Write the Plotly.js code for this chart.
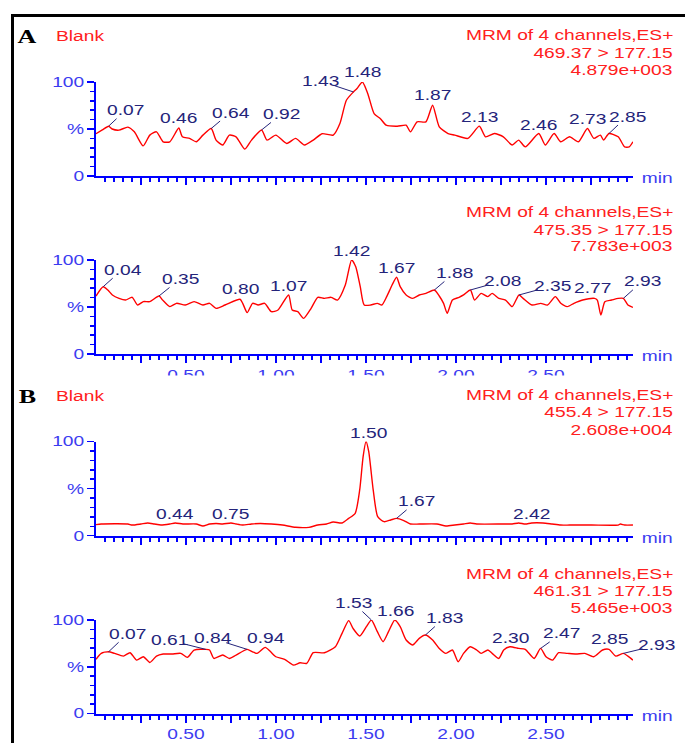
<!DOCTYPE html>
<html>
<head>
<meta charset="utf-8">
<script src="https://cdn.plot.ly/plotly-3.0.1.min.js"></script>
<style>
html,body{margin:0;padding:0;background:#fff;}
#chart{width:685px;height:743px;}
</style>
</head>
<body>
<div id="chart"></div>
<script>
// ---------------- DATA ----------------
// Panel A, channel 469.37 > 177.15
const timeA1 = [0.000,0.035,0.070,0.090,0.128,0.177,0.213,0.262,0.299,0.336,0.373,0.410,0.460,0.480,0.520,0.557,0.594,0.640,0.667,0.704,0.741,0.778,0.827,0.864,0.920,0.950,0.999,1.060,1.109,1.158,1.207,1.256,1.318,1.355,1.391,1.430,1.450,1.480,1.510,1.545,1.580,1.612,1.674,1.723,1.747,1.784,1.833,1.870,1.907,1.956,1.993,2.066,2.130,2.164,2.213,2.263,2.312,2.348,2.385,2.460,2.496,2.545,2.582,2.631,2.680,2.730,2.766,2.802,2.820,2.850,2.901,2.937,2.962,2.983];
const intensA1 = [45,49,53,50,48.8,52,47,32,43.5,47,36.4,36.4,51,41.7,40,36.4,43.5,50.5,38.2,33,43.5,41.7,28.6,38.2,49,38.2,43.5,34.6,40,33,38.2,45,43.5,55.8,80.6,89.4,93,100,87.6,66.4,61,54,53,54,47,57.6,57.6,75.3,52.3,45.2,43.5,40,53,41.7,45.2,41.7,33,38.2,31,45.2,33,45.2,36.4,41.7,36.4,50.5,40,43.5,38.2,45.2,41.7,31,31,36.4];
const peaksA1 = ['0.07','0.46','0.64','0.92','1.43','1.48','1.87','2.13','2.46','2.73','2.85'];

// Panel A, channel 475.35 > 177.15
const timeA2 = [0.000,0.040,0.066,0.091,0.128,0.164,0.201,0.231,0.263,0.299,0.350,0.370,0.410,0.447,0.496,0.545,0.594,0.631,0.667,0.717,0.800,0.815,0.840,0.870,0.901,0.937,0.974,1.011,1.070,1.090,1.121,1.153,1.195,1.232,1.269,1.306,1.342,1.385,1.420,1.443,1.468,1.490,1.526,1.563,1.588,1.615,1.645,1.670,1.690,1.723,1.759,1.796,1.833,1.880,1.907,1.931,1.951,1.980,2.017,2.042,2.080,2.103,2.140,2.177,2.201,2.238,2.275,2.312,2.350,2.373,2.422,2.471,2.508,2.552,2.582,2.618,2.655,2.704,2.770,2.785,2.805,2.827,2.864,2.901,2.930,2.955,2.983];
const intensA2 = [61.7,71.6,68,62.8,59.2,57.4,60.3,52.1,55.7,55.7,61.7,57.4,50.4,53.9,52.1,55.7,52.1,53.9,48.6,52.1,58.2,53.9,44,53.9,52.1,53.9,45,46.8,62.8,46.8,45,37.9,48.6,60.3,59.2,60.3,57.4,73.4,100,92.9,71.6,52.1,52.1,53.9,52.1,61,73.4,81.6,71.6,62.8,59.2,62.8,64.5,68.1,61.7,53.9,43.3,57.4,60.3,62.8,68.1,57.4,64.5,61,64.5,59.2,57.4,50.4,62.8,59.2,52.1,53.9,52.1,61,53.9,50.4,53.9,57.4,59.2,57.4,41.5,55.7,57.4,59.2,59.2,52.1,49.6];
const peaksA2 = ['0.04','0.35','0.80','1.07','1.42','1.67','1.88','2.08','2.35','2.77','2.93'];

// Panel B, channel 455.4 > 177.15
const timeB1 = [0.000,0.029,0.177,0.201,0.250,0.287,0.324,0.361,0.410,0.440,0.483,0.557,0.594,0.631,0.667,0.704,0.750,0.778,0.815,0.864,0.913,0.974,1.036,1.109,1.183,1.232,1.281,1.318,1.367,1.404,1.440,1.465,1.484,1.500,1.515,1.540,1.565,1.600,1.637,1.670,1.710,1.747,1.796,1.894,1.944,1.993,2.042,2.079,2.115,2.263,2.312,2.348,2.385,2.420,2.483,2.533,2.582,2.631,2.753,2.901,2.913,2.937,2.983];
const intensB1 = [11.7,12.4,12.4,11.3,12.4,13.5,12.4,11.3,12.4,13.5,12.4,12.4,10.3,12.4,13,12.4,13.5,12.4,11.3,12.4,13,12.4,11.3,8.9,8.9,11.3,12.4,14.5,13.5,18.4,23.8,48.6,84,100,89.4,48.6,20.2,14.9,16.7,18.4,16,12.4,12.4,12.4,10.3,11.3,12.4,13.5,12.4,12.4,12.4,13.5,12.4,13.5,13.5,12.4,11.3,11.3,11.3,11.3,12.4,11.3,11.3];
const peaksB1 = ['0.44','0.75','1.50','1.67','2.42'];

// Panel B, channel 461.31 > 177.15
const timeB2 = [0.000,0.029,0.070,0.103,0.152,0.189,0.226,0.263,0.299,0.336,0.373,0.422,0.471,0.508,0.545,0.610,0.631,0.655,0.704,0.741,0.778,0.840,0.870,0.895,0.940,0.970,0.999,1.048,1.097,1.134,1.171,1.207,1.269,1.330,1.367,1.404,1.428,1.465,1.502,1.530,1.563,1.595,1.625,1.660,1.690,1.723,1.759,1.796,1.830,1.870,1.907,1.944,1.980,2.012,2.042,2.079,2.115,2.140,2.177,2.201,2.238,2.265,2.300,2.348,2.385,2.434,2.470,2.500,2.537,2.570,2.618,2.667,2.716,2.765,2.814,2.850,2.888,2.930,2.955,2.983];
const intensB2 = [57.9,64.3,66,64.3,61.4,65,57.1,60.7,54.6,61.4,63.6,63.6,64.3,60,67.9,68.6,67.9,58.9,62.5,58.9,62.5,68.6,66,64.3,70.7,66,60.7,57.9,51.8,54.3,53.6,65,65,71.4,85.7,99.3,91,82.9,92.9,100,87.5,76.8,87.5,100,92.9,78.6,73.2,80.4,83.9,78.6,69.6,64.3,67.9,55.4,64.3,71.4,67.9,64.3,67.9,64.3,58.9,67.9,71.4,69.6,68.6,58.9,69.6,60.7,57.1,65,64.3,63.6,64.3,60.7,67.9,68.6,61.4,64.3,61.4,57.1];
const peaksB2 = ['0.07','0.61','0.84','0.94','1.53','1.66','1.83','2.30','2.47','2.85','2.93'];

const channelText = [
  ['MRM of 4 channels,ES+','469.37 &gt; 177.15','4.879e+003'],
  ['MRM of 4 channels,ES+','475.35 &gt; 177.15','7.783e+003'],
  ['MRM of 4 channels,ES+','455.4 &gt; 177.15','2.608e+004'],
  ['MRM of 4 channels,ES+','461.31 &gt; 177.15','5.465e+003']
];
const yTickVals = [0,50,100];
const yTickText = ['0','%','100'];
const xMajorVals = [0.25,0.5,0.75,1.0,1.25,1.5,1.75,2.0,2.25,2.5,2.75];
const xMajorText = ['','0.50','','1.00','','1.50','','2.00','','2.50',''];

// ---------------- STYLE / GEOMETRY ----------------
const W = 685, H = 743;
const px = x => x / W;
const py = y => (H - y) / H;
const RED = '#ff2020', BLUE = '#0000ff', TICKC = '#3c3cf0', NAVY = '#24247a';
const FONT = 'Liberation Sans, Arial, sans-serif';

const panelY = [[82,176],[260,354],[441.5,535.7],[620,713.5]];
const xLeft = 96, xRight = 633, pxPerMin = 180;
const xMax = (xRight - xLeft) / pxPerMin;

const offs = [
  [[17,-16,1],[0,-10,0],[19,-16,1],[20,-16,1],[-33,-11,1],[0,-10,0],[0,-10,0],[0,-9,0],[0,-9,0],[0,-10,0],[18,-17,1]],
  [[19,-17,1],[21,-17,1],[0,-10,0],[0,-9,0],[0,-9,0],[0,-9,0],[20,-17,1],[32,-9,1],[33,-9,1],[-2,-10,0],[19,-17,1]],
  [[-1,-9,0],[-1,-9,0],[2,-9,0],[20,-17,1],[0,-9,0]],
  [[19,-18,1],[-36,-9,1],[-35,-11,1],[0,-9,0],[-18,-17,1],[1,-9,0],[19,-17,1],[0,-9,0],[21,-15,1],[0,-10,0],[33,-8,1]]
];
const rightTextY = [[35,52.5,70],[212,229.5,246.5],[395,412.5,430],[573.5,591,608]];
const minY = [178,356,538,716];

const series = [[timeA1,intensA1,peaksA1],[timeA2,intensA2,peaksA2],[timeB1,intensB1,peaksB1],[timeB2,intensB2,peaksB2]];

function interp(ts, vs, t) {
  for (let i = 0; i < ts.length - 1; i++) {
    if (t >= ts[i] && t <= ts[i+1]) {
      const f = (t - ts[i]) / (ts[i+1] - ts[i]);
      return vs[i] + f * (vs[i+1] - vs[i]);
    }
  }
  return vs[vs.length-1];
}

const minorX = []; for (let k = 1; k < 60; k++) { if (k % 5) minorX.push(k * 0.05); }
const minorY = [10,20,30,40,60,70,80,90];

const traces = [];
const layout = {
  width: W, height: H,
  margin: {l:0, r:0, t:0, b:0, pad:0},
  paper_bgcolor: '#fff', plot_bgcolor: '#fff',
  showlegend: false,
  annotations: [], shapes: []
};

series.forEach((s, i) => {
  const n = i === 0 ? '' : String(i + 1);
  traces.push({
    x: s[0], y: s[1], type: 'scatter', mode: 'lines',
    xaxis: 'x' + n, yaxis: 'y' + n,
    line: {color: '#ff0000', width: 1.4, shape: 'spline', smoothing: 0.6},
    hoverinfo: 'skip'
  });
  const [yTop, yBot] = panelY[i];
  layout['xaxis' + n] = {
    domain: [px(xLeft), px(xRight)], range: [0, xMax], anchor: 'y' + n,
    showline: true, linecolor: BLUE, linewidth: 2, zeroline: false, showgrid: false,
    ticks: 'outside', ticklen: 7, tickwidth: 1.5, tickcolor: BLUE,
    tickmode: 'array', tickvals: xMajorVals,
    ticktext: (i === 1 || i === 3) ? xMajorText : xMajorVals.map(() => ''),
    tickfont: {family: FONT, size: 14, color: TICKC},
    minor: {tickmode: 'array', tickvals: minorX, ticks: 'outside', ticklen: 4, tickwidth: 1.5, tickcolor: BLUE, showgrid: false},
    fixedrange: true
  };
  layout['yaxis' + n] = {
    domain: [py(yBot), py(yTop)], range: [0, 100], anchor: 'x' + n,
    showline: true, linecolor: BLUE, linewidth: 2, zeroline: false, showgrid: false,
    ticks: 'outside', ticklen: 7, tickwidth: 1.5, tickcolor: BLUE,
    tickmode: 'array', tickvals: yTickVals, ticktext: yTickText,
    tickfont: {family: FONT, size: 14, color: TICKC},
    minor: {tickmode: 'array', tickvals: minorY, ticks: 'outside', ticklen: 4, tickwidth: 1.5, tickcolor: BLUE, showgrid: false},
    fixedrange: true
  };
  s[2].forEach((lab, j) => {
    const t = Number(lab);
    const o = offs[i][j];
    layout.annotations.push({
      xref: 'x' + n, yref: 'y' + n, x: t, y: interp(s[0], s[1], t),
      text: lab, showarrow: true, arrowhead: 0, arrowwidth: 1, standoff: 0,
      arrowcolor: o[2] ? NAVY : 'rgba(0,0,0,0)',
      ax: o[0], ay: o[1], borderpad: 0,
      font: {family: FONT, size: 14, color: NAVY}
    });
  });
  channelText[i].forEach((txt, j) => {
    layout.annotations.push({
      xref: 'paper', yref: 'paper', x: px(675), y: py(rightTextY[i][j]),
      xanchor: 'right', yanchor: 'middle', align: 'right', showarrow: false,
      text: txt, font: {family: FONT, size: 14, color: RED}
    });
  });
  layout.annotations.push({
    xref: 'paper', yref: 'paper', x: px(657), y: py(minY[i]),
    xanchor: 'center', yanchor: 'middle', showarrow: false,
    text: 'min', font: {family: FONT, size: 14, color: TICKC}
  });
});

[['A', 36], ['B', 396]].forEach(([L, y]) => {
  layout.annotations.push({
    xref: 'paper', yref: 'paper', x: px(27), y: py(y), xanchor: 'center', yanchor: 'middle',
    showarrow: false, text: '<b>' + L + '</b>',
    font: {family: 'Liberation Serif, Times New Roman, serif', size: 19, color: '#000'}
  });
  layout.annotations.push({
    xref: 'paper', yref: 'paper', x: px(54), y: py(y), xanchor: 'left', yanchor: 'middle', align: 'left',
    showarrow: false, text: 'Blank', font: {family: FONT, size: 14, color: RED}
  });
});

layout.shapes.push(
  {type: 'rect', xref: 'paper', yref: 'paper', x0: px(150), x1: px(600), y0: py(384), y1: py(375.5),
   fillcolor: '#fff', line: {width: 0}, layer: 'above'},
  {type: 'line', xref: 'paper', yref: 'paper', x0: px(11), x1: 1.01, y0: py(15.5), y1: py(15.5),
   line: {color: '#000', width: 3}},
  {type: 'line', xref: 'paper', yref: 'paper', x0: px(12.5), x1: px(12.5), y0: -0.01, y1: py(14),
   line: {color: '#000', width: 3}}
);

function stretchText() {
  const k = 1.37;
  document.querySelectorAll('#chart svg text').forEach(el => {
    const lines = el.querySelectorAll('tspan.line');
    const targets = lines.length ? Array.from(lines) : [el];
    targets.forEach(nd => {
      const w = nd.getComputedTextLength();
      if (w > 0) {
        nd.setAttribute('textLength', (w * k).toFixed(2));
        nd.setAttribute('lengthAdjust', 'spacingAndGlyphs');
      }
    });
  });
}

Plotly.newPlot('chart', traces, layout, {staticPlot: true, displayModeBar: false}).then(stretchText);
</script>
</body>
</html>
